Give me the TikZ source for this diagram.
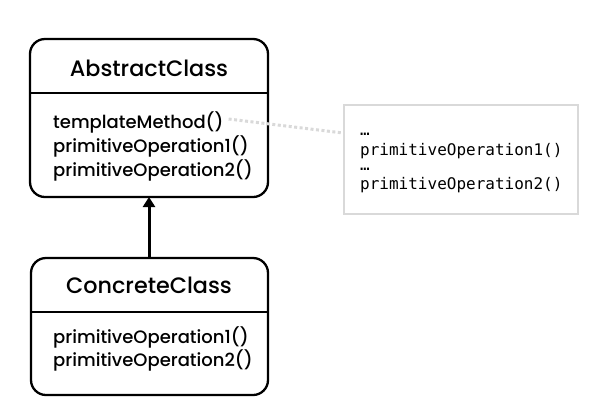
\documentclass[tikz,border=0pt]{standalone}
\usepackage{fontspec}
\setmainfont{Poppins Medium}
\newfontfamily\codefont{DejaVu Sans Mono}
\usetikzlibrary{arrows.meta}
\begin{document}
\begin{tikzpicture}[x=1pt,y=-1pt,
  classbox/.style={draw=black,line width=2.3pt,rounded corners=15pt},
  divider/.style={draw=black,line width=1.3pt},
  titletext/.style={font=\fontsize{22.3}{25}\selectfont,inner sep=0pt},
  methodtext/.style={font=\fontsize{18}{20}\selectfont,inner sep=0pt,anchor=west},
  codetext/.style={font=\codefont\fontsize{16}{18}\selectfont,inner sep=0pt,anchor=west},
  dotstext/.style={codetext,text height=1.5pt,text depth=0pt},
  notebox/.style={draw=black!15,line width=1.5pt},
  noteline/.style={draw=black!15,line width=3pt,dash pattern=on 3pt off 2.5pt},
  inherit/.style={draw=black,line width=3pt,-{Triangle[length=10pt,width=12pt]}}]
\useasboundingbox (0,0) rectangle (591,416);
% AbstractClass
\draw[classbox] (30,39) rectangle (268,197);
\coordinate (absbot) at (149,197);
\draw[divider] (30,93) -- (268,93);
\node[titletext] (abstitle) at (149,68) {AbstractClass};
\node[methodtext] (tm) at (53,122) {templateMethod()};
\node[methodtext] (ap1) at (53,146) {primitiveOperation1()};
\node[methodtext] (ap2) at (53,170) {primitiveOperation2()};
% ConcreteClass
\draw[classbox] (31,258) rectangle (268,395);
\coordinate (contop) at (149,258);
\draw[divider] (31,312) -- (268,312);
\node[titletext] (contitle) at (149,285) {ConcreteClass};
\node[methodtext] (cp1) at (53,337) {primitiveOperation1()};
\node[methodtext] (cp2) at (53,360) {primitiveOperation2()};
% note
\node[notebox,minimum width=234pt,minimum height=109pt,anchor=north west,inner sep=0pt] (note) at (343,104) {};
\node[dotstext] (d1) at (360,135) {…};
\node[codetext] (n1) at (360,151) {primitiveOperation1()};
\node[dotstext] (d2) at (360,170) {…};
\node[codetext] (n2) at (360,185) {primitiveOperation2()};
% connectors
\draw[noteline] ([xshift=5pt,yshift=3pt]tm.east) -- (note.west |- 0,133);
\draw[inherit] (contop) -- (absbot);
\end{tikzpicture}
\end{document}
